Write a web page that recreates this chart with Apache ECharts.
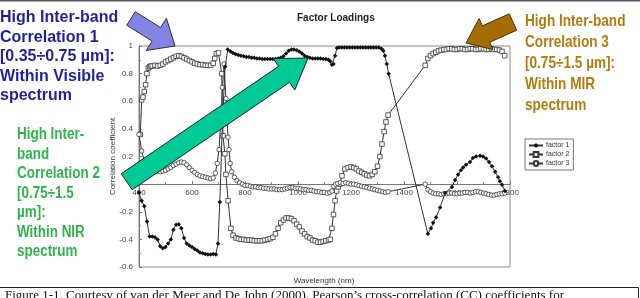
<!DOCTYPE html>
<html><head><meta charset="utf-8">
<script src="https://cdn.jsdelivr.net/npm/echarts@6/dist/echarts.min.js"></script>
<style>html,body{margin:0;padding:0;background:#fff}#c{width:640px;height:298px}</style>
</head><body><div id="c"></div>
<script>
// ---- data ----
const xTicks = [400, 600, 800, 1000, 1200, 1400, 1600, 1800];
const yTicks = [-0.6, -0.4, -0.2, 0, 0.2, 0.4, 0.6, 0.8, 1];
const seriesNames = ['factor 1', 'factor 2', 'factor 3'];

const f1Wl = [400,410,420,430,440,450,460,470,480,490,500,510,520,530,540,550,560,570,580,590,600,610,620,630,640,650,660,670,680,690,698,705,715,725,735,745,755,765,775,785,795,805,815,825,835,845,855,865,875,885,895,905,915,925,935,945,955,965,975,985,995,1005,1015,1025,1035,1045,1055,1065,1075,1085,1095,1105,1115,1122,1128,1134,1140,1147,1155,1165,1175,1185,1195,1205,1215,1225,1235,1245,1255,1265,1275,1285,1295,1305,1315,1322,1328,1335,1342,1490,1502,1510,1521,1536,1555,1581,1593,1604,1615,1623,1634,1649,1660,1672,1687,1698,1710,1721,1732,1744,1755,1762,1770,1781];
const f1Val = [-0.06,-0.12,-0.16,-0.27,-0.38,-0.38,-0.385,-0.40,-0.45,-0.465,-0.455,-0.43,-0.40,-0.33,-0.295,-0.29,-0.32,-0.39,-0.43,-0.445,-0.455,-0.47,-0.48,-0.495,-0.50,-0.505,-0.51,-0.51,-0.505,-0.51,-0.43,-0.13,0.45,0.85,0.975,0.96,0.95,0.94,0.935,0.93,0.925,0.92,0.92,0.915,0.915,0.91,0.91,0.905,0.905,0.905,0.905,0.905,0.905,0.91,0.915,0.925,0.945,0.965,0.975,0.975,0.97,0.96,0.945,0.93,0.92,0.915,0.91,0.91,0.91,0.91,0.905,0.905,0.90,0.89,0.865,0.87,0.93,0.985,0.99,0.99,0.99,0.99,0.99,0.99,0.99,0.99,0.99,0.99,0.99,0.99,0.99,0.99,0.99,0.99,0.98,0.965,0.93,0.87,0.80,-0.36,-0.32,-0.28,-0.24,-0.17,-0.065,-0.02,0.03,0.07,0.10,0.12,0.14,0.16,0.19,0.20,0.205,0.20,0.185,0.16,0.13,0.09,0.05,0.02,-0.005,-0.05];

const f2Wl = [405,410,415,420,425,430,435,440,445,450,460,470,480,490,500,510,520,530,540,550,560,570,580,590,600,610,620,630,640,650,660,670,680,686,692,700,712,717,724,728,736,747,755,766,775,785,795,805,815,825,835,845,855,865,875,885,895,905,915,925,935,945,955,965,975,985,995,1005,1015,1025,1035,1045,1055,1065,1075,1085,1095,1105,1115,1122,1128,1134,1140,1146,1152,1158,1166,1177,1189,1200,1210,1220,1230,1240,1250,1260,1270,1280,1290,1300,1309,1317,1325,1332,1340,1480,1490,1500,1510,1520,1530,1540,1550,1560,1570,1580,1590,1600,1610,1620,1630,1640,1650,1660,1670,1680,1690,1700,1710,1720,1730,1740,1750,1760,1770,1780];
const f2Val = [0.36,0.61,0.63,0.67,0.72,0.80,0.84,0.85,0.855,0.855,0.86,0.855,0.86,0.87,0.885,0.895,0.905,0.915,0.925,0.93,0.925,0.915,0.905,0.895,0.885,0.875,0.87,0.865,0.865,0.86,0.86,0.86,0.875,0.91,0.945,0.95,0.80,0.35,0.22,0.07,-0.12,-0.32,-0.37,-0.39,-0.395,-0.40,-0.40,-0.405,-0.405,-0.405,-0.41,-0.41,-0.41,-0.41,-0.405,-0.40,-0.395,-0.385,-0.36,-0.32,-0.28,-0.26,-0.245,-0.245,-0.25,-0.265,-0.29,-0.31,-0.34,-0.36,-0.38,-0.39,-0.405,-0.41,-0.42,-0.42,-0.415,-0.41,-0.405,-0.40,-0.32,-0.22,-0.12,-0.05,-0.02,0.0,0.06,0.11,0.12,0.125,0.12,0.11,0.095,0.085,0.075,0.065,0.06,0.07,0.09,0.13,0.20,0.29,0.38,0.45,0.50,0.86,0.91,0.93,0.945,0.955,0.965,0.97,0.975,0.975,0.98,0.98,0.975,0.975,0.98,0.98,0.975,0.975,0.98,0.98,0.975,0.975,0.98,0.98,0.975,0.975,0.98,0.975,0.975,0.97,0.96,0.93];

const f3Wl = [400,410,420,430,440,450,460,470,480,490,500,510,520,530,540,550,560,570,580,590,600,610,620,630,640,650,660,670,680,688,695,702,709,715,721,728,732,736,740,744,750,760,770,780,790,800,810,820,830,840,850,860,870,880,890,900,910,920,930,940,950,960,970,980,990,1000,1010,1020,1030,1040,1050,1060,1070,1080,1090,1100,1110,1120,1128,1135,1142,1150,1160,1170,1180,1190,1200,1210,1220,1230,1240,1250,1260,1270,1280,1290,1300,1310,1320,1330,1340,1480,1490,1500,1510,1520,1530,1540,1550,1560,1570,1580,1590,1600,1610,1620,1630,1640,1650,1660,1670,1680,1690,1700,1710,1720,1730,1740,1750,1760,1770,1780];
const f3Val = [0.36,0.24,0.17,0.13,0.11,0.10,0.095,0.09,0.09,0.095,0.10,0.11,0.12,0.135,0.145,0.155,0.16,0.155,0.14,0.12,0.10,0.085,0.07,0.06,0.055,0.05,0.045,0.04,0.045,0.08,0.15,0.25,0.47,0.70,0.87,0.62,0.47,0.34,0.25,0.15,0.09,0.05,0.025,0.01,0.0,-0.01,-0.01,-0.015,-0.02,-0.02,-0.025,-0.025,-0.03,-0.03,-0.035,-0.035,-0.035,-0.04,-0.04,-0.04,-0.035,-0.03,-0.025,-0.025,-0.03,-0.03,-0.035,-0.04,-0.04,-0.045,-0.045,-0.05,-0.055,-0.055,-0.06,-0.06,-0.065,-0.06,-0.05,-0.015,0.0,0.005,0.01,0.005,0.01,0.005,0.0,0.0,-0.005,-0.01,-0.015,-0.02,-0.025,-0.03,-0.035,-0.04,-0.045,-0.05,-0.055,-0.06,-0.055,0.0,-0.04,-0.055,-0.065,-0.07,-0.07,-0.075,-0.07,-0.07,-0.065,-0.065,-0.07,-0.07,-0.065,-0.065,-0.06,-0.06,-0.065,-0.06,-0.055,-0.055,-0.06,-0.065,-0.07,-0.075,-0.08,-0.08,-0.075,-0.07,-0.07,-0.065];

const zip = (a, b) => a.map((v, i) => [v, b[i]]);

// ---- chart ----
const chart = echarts.init(document.getElementById('c'), null, {renderer: 'canvas'});
const axisFont = 'Liberation Sans, Arial, sans-serif';
const lineCol = '#333';
const gridTop = 46, gridBottomPx = 267;
const zeroOffset = -(gridBottomPx - gridTop) * (0 - yTicks[0]) / (yTicks[yTicks.length - 1] - yTicks[0]);

function arrow(tail1, tail2, tip, headHalf, headLen) {
  const mx = (tail1[0] + tail2[0]) / 2, my = (tail1[1] + tail2[1]) / 2;
  const dx = tip[0] - mx, dy = tip[1] - my, L = Math.hypot(dx, dy);
  const ux = dx / L, uy = dy / L, px = -uy, py = ux;
  const hw = Math.hypot(tail1[0] - tail2[0], tail1[1] - tail2[1]) / 2;
  const bx = tip[0] - ux * headLen, by = tip[1] - uy * headLen;
  return [
    [mx + px * hw, my + py * hw],
    [bx + px * hw, by + py * hw],
    [bx + px * headHalf, by + py * headHalf],
    tip,
    [bx - px * headHalf, by - py * headHalf],
    [bx - px * hw, by - py * hw],
    [mx - px * hw, my - py * hw]
  ];
}

const option = {
  animation: false,
  backgroundColor: '#fff',
  title: {
    text: 'Factor Loadings', left: 297, top: 13, padding: 0,
    textStyle: {fontSize: 10, fontWeight: 'bold', color: '#222', fontFamily: axisFont}
  },
  legend: {
    orient: 'vertical', left: 525, top: 139, padding: [3, 4, 3, 3], itemGap: 2,
    itemWidth: 14, itemHeight: 6,
    borderColor: '#777', borderWidth: 1,
    textStyle: {fontSize: 7, color: '#333', fontFamily: axisFont, padding: [0, 0, 0, -2]},
    data: seriesNames
  },
  grid: {left: 139, right: 130, top: gridTop, bottom: 298 - gridBottomPx, show: true, borderColor: '#8a8a8a', borderWidth: 1, backgroundColor: 'transparent'},
  xAxis: {
    type: 'value', min: xTicks[0], max: xTicks[xTicks.length - 1], interval: 200,
    offset: zeroOffset,
    axisLine: {onZero: false, lineStyle: {color: '#777', width: 1}},
    axisTick: {inside: true, length: 3, lineStyle: {color: '#777'}},
    minorTick: {show: true, splitNumber: 2, length: 2, lineStyle: {color: '#888'}},
    splitLine: {show: false},
    axisLabel: {fontSize: 8, color: '#444', margin: 5, fontFamily: axisFont, formatter: v => String(v)}
  },
  yAxis: {
    type: 'value', min: yTicks[0], max: yTicks[yTicks.length - 1], interval: 0.2,
    name: 'Correlation coefficient', nameLocation: 'middle', nameGap: 22, nameMoveOverlap: false,
    nameTextStyle: {fontSize: 8, color: '#333', fontFamily: axisFont},
    axisLine: {show: true, lineStyle: {color: '#777', width: 1}},
    axisTick: {show: true, inside: true, length: 3, lineStyle: {color: '#777'}},
    minorTick: {show: true, splitNumber: 2, length: 2, lineStyle: {color: '#888'}},
    splitLine: {show: false},
    axisLabel: {fontSize: 8, color: '#444', margin: 6, fontFamily: axisFont,
      formatter: v => Math.abs(v) < 1e-9 ? '' : String(+v.toFixed(1))}
  },
  series: [
    {name: seriesNames[0], type: 'line', data: zip(f1Wl, f1Val), symbol: 'diamond', symbolSize: 4.5, showSymbol: true,
      lineStyle: {color: lineCol, width: 1}, itemStyle: {color: '#111'}, z: 3},
    {name: seriesNames[1], type: 'line', data: zip(f2Wl, f2Val), symbol: 'rect', symbolSize: 4.5, showSymbol: true,
      lineStyle: {color: lineCol, width: 1}, itemStyle: {color: '#fff', borderColor: '#333', borderWidth: 0.8}, z: 2},
    {name: seriesNames[2], type: 'line', data: zip(f3Wl, f3Val), symbol: 'circle', symbolSize: 4.5, showSymbol: true,
      lineStyle: {color: lineCol, width: 1}, itemStyle: {color: '#fff', borderColor: '#333', borderWidth: 0.8}, z: 2}
  ],
  graphic: [
    {type: 'rect', shape: {x: 0, y: 0, width: 640, height: 1.5}, style: {fill: '#555'}, z: 10},
    {type: 'text', x: 324, y: 281, style: {text: 'Wavelength (nm)', fontSize: 8, fontFamily: axisFont, fill: '#333', align: 'center', verticalAlign: 'middle'}},
    {type: 'line', shape: {x1: 0, y1: 287.5, x2: 638.5, y2: 287.5}, style: {stroke: '#222', lineWidth: 1}},
    {type: 'line', shape: {x1: 638.5, y1: 287.5, x2: 638.5, y2: 300}, style: {stroke: '#222', lineWidth: 1}},
    {type: 'text', x: 5, y: 289, style: {text: 'Figure 1-1. Courtesy of van der Meer and De John (2000). Pearson\u2019s cross-correlation (CC) coefficients for',
      fontSize: 13, fontFamily: 'Liberation Serif, Times New Roman, serif', fill: '#111', verticalAlign: 'top'}},
    {type: 'text', x: 0, y: 8, z: 20, style: {text: 'High Inter-band\nCorrelation 1\n[0.35\u00f70.75 \u00b5m]:\nWithin Visible\nspectrum',
      fontSize: 16, fontWeight: 'bold', fontFamily: axisFont, fill: '#1f1fa3', lineHeight: 19.5, verticalAlign: 'top'}},
    {type: 'text', x: 17, y: 125, z: 20, scaleX: 0.84, style: {text: 'High Inter-\nband\nCorrelation 2\n[0.75\u00f71.5\n\u00b5m]:\nWithin NIR\nspectrum',
      fontSize: 16, fontWeight: 'bold', fontFamily: axisFont, fill: '#2eb54a', lineHeight: 19.5, verticalAlign: 'top'}},
    {type: 'text', x: 525, y: 11, z: 20, scaleX: 0.8, style: {text: 'High Inter-band\nCorrelation 3\n[0.75\u00f71.5 \u00b5m]:\nWithin MIR\nspectrum',
      fontSize: 17, fontWeight: 'bold', fontFamily: axisFont, fill: '#b37a0e', lineHeight: 21, verticalAlign: 'top'}},
    {type: 'polygon', z: 30, shape: {points: arrow([126.8, 25.3], [135.2, 11.7], [175, 46], 19, 22)}, style: {fill: '#8383e4', stroke: '#333', lineWidth: 1}},
    {type: 'polygon', z: 30, shape: {points: arrow([121.2, 173.7], [132.2, 189.7], [308, 58], 19, 29)}, style: {fill: '#00c995', stroke: '#222', lineWidth: 1}},
    {type: 'polygon', z: 30, shape: {points: arrow([509.3, 13.8], [516.7, 30.2], [466, 43], 17, 22)}, style: {fill: '#a56c00', stroke: '#4a3000', lineWidth: 1}}
  ]
};
chart.setOption(option);
</script>
</body></html>
